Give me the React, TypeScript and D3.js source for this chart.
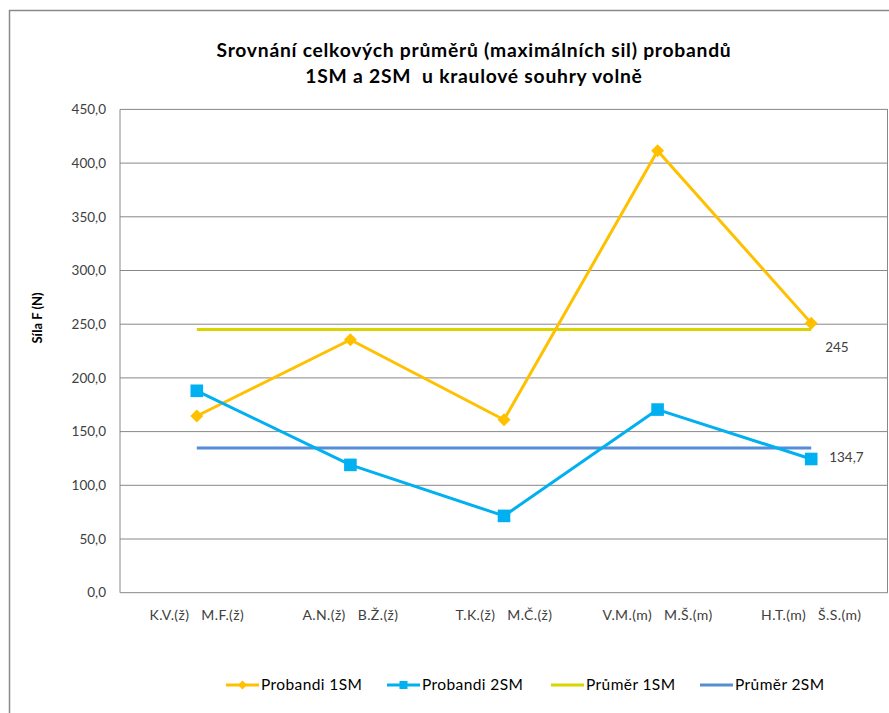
import React from "react";
import * as d3 from "d3";

// Subjects compared for each of the five pairs (1SM name, 2SM name)
const pairs1SM = ["K.V.(ž)", "A.N.(ž)", "T.K.(ž)", "V.M.(m)", "H.T.(m)"];
const pairs2SM = ["M.F.(ž)", "B.Ž.(ž)", "M.Č.(ž)", "M.Š.(m)", "Š.S.(m)"];

// Maximal force averages per subject (N)
const probandi1SM = [164.5, 235.5, 161, 411.5, 251];
const probandi2SM = [188, 119, 71.5, 170.5, 124.5];

// Overall group averages
const prumer1SM = 245;
const prumer2SM = 134.7;

const yTicks = [0, 50, 100, 150, 200, 250, 300, 350, 400, 450];

const legendLabels = ["Probandi 1SM", "Probandi 2SM", "Průměr 1SM", "Průměr 2SM"];

const W = 889;
const H = 713;
const FONT = "Lato, 'Open Sans', sans-serif";

const C_1SM = "#FFC000";
const C_2SM = "#00B0F0";
const C_AVG1 = "#D9D300";
const C_AVG2 = "#558ED5";
const GRID = "#888888";

export default function App() {
  const plot = { left: 120, right: 888, top: 109.4, bottom: 592.7 };
  const cats = pairs1SM.map((_, i) => String(i));

  const x = d3
    .scaleBand<string>()
    .domain(cats)
    .range([plot.left, plot.right]);
  const cx = (i: number) => (x(String(i)) as number) + x.bandwidth() / 2;

  const y = d3.scaleLinear().domain([0, 450]).range([plot.bottom, plot.top]);

  const line = d3
    .line<number>()
    .x((_, i) => cx(i))
    .y((d) => y(d));

  const fmt = (v: number) => d3.format(".1f")(v).replace(".", ",");

  const diamond = (px: number, py: number, r: number) =>
    `M${px},${py - r}L${px + r},${py}L${px},${py + r}L${px - r},${py}Z`;

  const firstX = cx(0);
  const lastX = cx(pairs1SM.length - 1);

  const legendY = 685;
  const legendX = [226, 387, 551, 700];

  return (
    <svg
      width={W}
      height={H}
      style={{ position: "absolute", left: 0, top: 0, background: "#fff" }}
      fontFamily={FONT}
    >
      {/* chart frame */}
      <rect x={9.5} y={10.5} width={W + 20} height={H + 20} fill="#fff" stroke="#8a8a8a" strokeWidth={1.5} />

      {/* title */}
      <text x={474} y={57} textAnchor="middle" fontSize={19.3} fontWeight="bold" fill="#000" letterSpacing={0.75}>
        Srovnání celkových průměrů (maximálních sil) probandů
      </text>
      <text x={474} y={83} textAnchor="middle" fontSize={19.3} fontWeight="bold" fill="#000" letterSpacing={0.75} style={{ whiteSpace: "pre" }}>
        {"1SM a 2SM  u kraulové souhry volně"}
      </text>

      {/* gridlines */}
      {yTicks.map((t) => (
        <line key={t} x1={plot.left} x2={plot.right} y1={y(t)} y2={y(t)} stroke={GRID} strokeWidth={1} />
      ))}
      {/* plot area edges */}
      <line x1={plot.left} x2={plot.left} y1={plot.top} y2={plot.bottom} stroke={GRID} />
      <line x1={plot.right - 0.5} x2={plot.right - 0.5} y1={plot.top} y2={plot.bottom} stroke={GRID} />

      {/* y tick labels */}
      {yTicks.map((t) => (
        <text key={t} x={106} y={y(t)} dy="0.35em" textAnchor="end" fontSize={13.5} fill="#404040">
          {fmt(t)}
        </text>
      ))}

      {/* y axis title */}
      <text
        transform={`translate(42,318) rotate(-90)`}
        textAnchor="middle"
        fontSize={13}
        fontWeight="bold"
        fill="#000"
      >
        Síla F (N)
      </text>

      {/* x category labels */}
      {pairs1SM.map((a, i) => (
        <text key={a} x={cx(i)} y={620} textAnchor="middle" fontSize={14} letterSpacing={0.4} fill="#404040" style={{ whiteSpace: "pre" }}>
          {`${a}   ${pairs2SM[i]}`}
        </text>
      ))}

      {/* averages */}
      <line x1={firstX} x2={lastX} y1={y(prumer1SM)} y2={y(prumer1SM)} stroke={C_AVG1} strokeWidth={3} />
      <line x1={firstX} x2={lastX} y1={y(prumer2SM)} y2={y(prumer2SM)} stroke={C_AVG2} strokeWidth={3} />

      {/* series lines */}
      <path d={line(probandi1SM) || ""} fill="none" stroke={C_1SM} strokeWidth={3} strokeLinejoin="round" />
      <path d={line(probandi2SM) || ""} fill="none" stroke={C_2SM} strokeWidth={3} strokeLinejoin="round" />

      {/* markers */}
      {probandi1SM.map((v, i) => (
        <path key={`d${i}`} d={diamond(cx(i), y(v), 6.5)} fill={C_1SM} />
      ))}
      {probandi2SM.map((v, i) => (
        <rect key={`s${i}`} x={cx(i) - 6.3} y={y(v) - 6.3} width={12.6} height={12.6} fill={C_2SM} />
      ))}

      {/* average labels */}
      <text x={lastX + 14} y={y(prumer1SM) + 22} fontSize={13.5} fill="#404040">
        {String(prumer1SM)}
      </text>
      <text x={lastX + 18} y={y(prumer2SM) + 13.5} fontSize={13.5} fill="#404040">
        {String(prumer2SM).replace(".", ",")}
      </text>

      {/* legend */}
      <g>
        <line x1={legendX[0]} x2={legendX[0] + 33} y1={legendY} y2={legendY} stroke={C_1SM} strokeWidth={3} />
        <path d={diamond(legendX[0] + 16.5, legendY, 4.5)} fill={C_1SM} />
        <line x1={legendX[1]} x2={legendX[1] + 33} y1={legendY} y2={legendY} stroke={C_2SM} strokeWidth={3} />
        <rect x={legendX[1] + 12.5} y={legendY - 4} width={8} height={8} fill={C_2SM} />
        <line x1={legendX[2]} x2={legendX[2] + 33} y1={legendY} y2={legendY} stroke={C_AVG1} strokeWidth={3} />
        <line x1={legendX[3]} x2={legendX[3] + 33} y1={legendY} y2={legendY} stroke={C_AVG2} strokeWidth={3} />
        {legendLabels.map((l, i) => (
          <text key={l} x={legendX[i] + 35} y={legendY} dy="0.35em" fontSize={15.5} letterSpacing={0.4} fill="#000">
            {l}
          </text>
        ))}
      </g>
    </svg>
  );
}
